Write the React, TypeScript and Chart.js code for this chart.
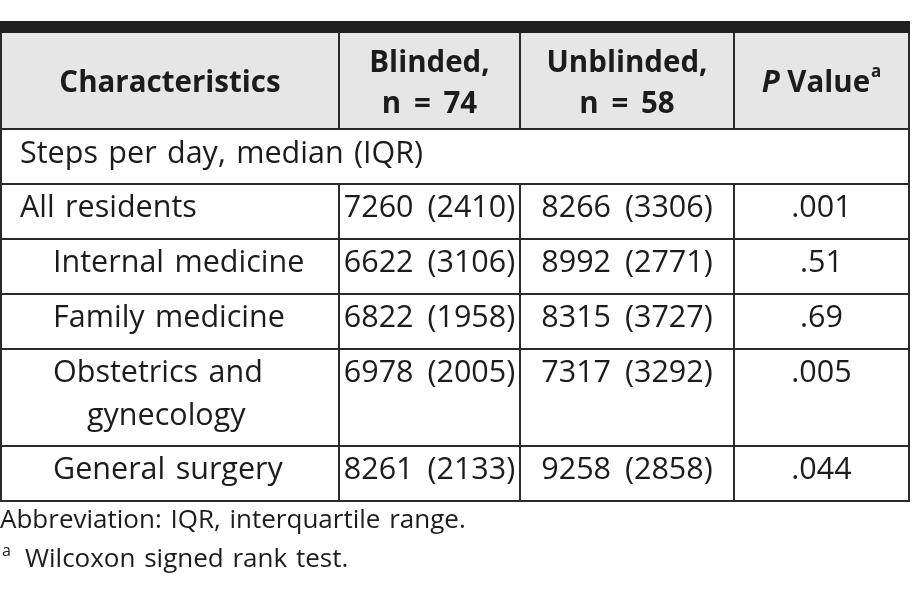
import React, { useEffect, useRef } from "react";
import { Chart, registerables } from "chart.js";

Chart.register(...registerables);

// ---- table content ----
const headerCharacteristics = "Characteristics";
const headerBlinded = ["Blinded,", "n = 74"];
const headerUnblinded = ["Unblinded,", "n = 58"];
const headerPValue = "Value";
const sectionLabel = "Steps per day, median (IQR)";
const categories = [
  "All residents",
  "Internal medicine",
  "Family medicine",
  "Obstetrics and gynecology",
  "General surgery",
];
const categoryLevels = [0, 1, 1, 1, 1];
const blinded = ["7260 (2410)", "6622 (3106)", "6822 (1958)", "6978 (2005)", "8261 (2133)"];
const unblinded = ["8266 (3306)", "8992 (2771)", "8315 (3727)", "7317 (3292)", "9258 (2858)"];
const pValues = [".001", ".51", ".69", ".005", ".044"];
const footnoteAbbrev = "Abbreviation: IQR, interquartile range.";
const footnoteTest = "Wilcoxon signed rank test.";

// ---- layout (in scale units) ----
const COL_EDGES = [1, 339, 520, 734, 909];
const TOP_BAR = [21, 33];
const HEADER_BOTTOM = 129;
const ROW_BASE_H = 55;
const ROW_EXTRA_LINE_H = 42;
const FONT_FAMILY = '"Open Sans", "Noto Sans", sans-serif';
const INK = "#1c1c1c";
const RULE = "#2b2b2b";

const fBody = `30.5px ${FONT_FAMILY}`;
const fHead = `bold 29.5px ${FONT_FAMILY}`;
const fHeadItalic = `italic bold 29.5px ${FONT_FAMILY}`;
const fSup = `bold 17px ${FONT_FAMILY}`;
const fFoot = `26px ${FONT_FAMILY}`;
const fFootSup = `16px ${FONT_FAMILY}`;

function setWS(ctx: CanvasRenderingContext2D, px: number) {
  (ctx as any).wordSpacing = `${px}px`;
}

function wrapText(ctx: CanvasRenderingContext2D, text: string, maxW: number): string[] {
  const words = text.split(" ");
  const lines: string[] = [];
  let cur = "";
  for (const w of words) {
    const test = cur ? cur + " " + w : w;
    if (ctx.measureText(test).width > maxW && cur) {
      lines.push(cur);
      cur = w;
    } else cur = test;
  }
  if (cur) lines.push(cur);
  return lines;
}

const tablePlugin = {
  id: "tablePlugin",
  afterDraw(chart: any) {
    const ctx: CanvasRenderingContext2D = chart.ctx;
    const xs = chart.scales.x;
    const ys = chart.scales.y;
    const X = (v: number) => xs.getPixelForValue(v);
    const Y = (v: number) => ys.getPixelForValue(v);
    const cx = COL_EDGES.map(X);
    ctx.save();
    ctx.textBaseline = "alphabetic";

    // compute row layout
    ctx.font = fBody;
    setWS(ctx, 2.5);
    const labelLines = categories.map((c, i) =>
      wrapText(ctx, c, cx[1] - cx[0] - (categoryLevels[i] ? 60 : 25))
    );
    const rowEdges: number[] = [HEADER_BOTTOM, HEADER_BOTTOM + ROW_BASE_H];
    labelLines.forEach((ls) => {
      rowEdges.push(rowEdges[rowEdges.length - 1] + ROW_BASE_H + (ls.length - 1) * ROW_EXTRA_LINE_H);
    });
    const ry = rowEdges.map(Y);

    // header background
    ctx.fillStyle = "#e6e6e6";
    ctx.fillRect(cx[0], Y(TOP_BAR[1]), cx[4] - cx[0], Y(HEADER_BOTTOM) - Y(TOP_BAR[1]));
    // top bar
    ctx.fillStyle = "#1f1f1f";
    ctx.fillRect(cx[0] - 1, Y(TOP_BAR[0]), cx[4] - cx[0] + 2, Y(TOP_BAR[1]) - Y(TOP_BAR[0]));

    // rules
    ctx.strokeStyle = RULE;
    ctx.lineWidth = 2;
    const hline = (y: number) => {
      ctx.beginPath();
      ctx.moveTo(cx[0] - 1, y);
      ctx.lineTo(cx[4] + 1, y);
      ctx.stroke();
    };
    const vline = (x: number, y0: number, y1: number) => {
      ctx.beginPath();
      ctx.moveTo(x, y0);
      ctx.lineTo(x, y1);
      ctx.stroke();
    };
    ry.forEach(hline);
    const yTop = Y(TOP_BAR[1]);
    const yBot = ry[ry.length - 1];
    vline(cx[0], yTop, yBot + 1);
    vline(cx[4], yTop, yBot + 1);
    for (let k = 1; k < 4; k++) {
      vline(cx[k], yTop, ry[0]);
      vline(cx[k], ry[1], yBot);
    }

    ctx.fillStyle = INK;
    // header text
    const hCenter = (Y(TOP_BAR[1]) + Y(HEADER_BOTTOM)) / 2;
    const colMid = (k: number) => (cx[k] + cx[k + 1]) / 2;
    ctx.textAlign = "center";
    ctx.font = fHead;
    setWS(ctx, 0);
    ctx.fillText(headerCharacteristics, colMid(0), hCenter + 11);
    [headerBlinded, headerUnblinded].forEach((ls, j) => {
      setWS(ctx, 0);
      ctx.fillText(ls[0], colMid(j + 1), hCenter + 11 - 20.5);
      setWS(ctx, 5);
      ctx.fillText(ls[1], colMid(j + 1), hCenter + 11 + 20.5);
    });
    setWS(ctx, 0);
    // P Value^a
    ctx.textAlign = "left";
    ctx.font = fHeadItalic;
    const wP = ctx.measureText("P ").width;
    ctx.font = fHead;
    const wV = ctx.measureText(headerPValue).width;
    ctx.font = fSup;
    const wA = ctx.measureText("a").width;
    let px = colMid(3) - (wP + wV + wA + 1) / 2;
    ctx.font = fHeadItalic;
    ctx.fillText("P ", px, hCenter + 11);
    px += wP;
    ctx.font = fHead;
    ctx.fillText(headerPValue, px, hCenter + 11);
    px += wV + 1;
    ctx.font = fSup;
    ctx.fillText("a", px, hCenter + 11 - 15);

    // section row
    ctx.font = fBody;
    setWS(ctx, 2.5);
    ctx.textAlign = "left";
    ctx.fillText(sectionLabel, cx[0] + 19, ry[0] + 34);

    // data rows
    categories.forEach((_, i) => {
      const top = ry[i + 1];
      const base = top + 33;
      const indent = categoryLevels[i] ? 52 : 19;
      ctx.textAlign = "left";
      setWS(ctx, 2.5);
      labelLines[i].forEach((ln, li) => {
        ctx.fillText(ln, cx[0] + indent + (li > 0 ? 34 : 0), base + li * 43);
      });
      ctx.textAlign = "center";
      setWS(ctx, 6);
      ctx.fillText(blinded[i], colMid(1), base);
      ctx.fillText(unblinded[i], colMid(2), base);
      ctx.fillText(pValues[i], colMid(3), base);
    });

    // footnotes
    ctx.textAlign = "left";
    ctx.font = fFoot;
    setWS(ctx, 2);
    ctx.fillText(footnoteAbbrev, cx[0] - 1, yBot + 27);
    ctx.font = fFootSup;
    ctx.fillText("a", cx[0] + 1, yBot + 55);
    ctx.font = fFoot;
    ctx.fillText(footnoteTest, cx[0] + 24, yBot + 66);

    ctx.restore();
  },
};

export default function App() {
  const ref = useRef<HTMLCanvasElement | null>(null);
  useEffect(() => {
    if (!ref.current) return;
    const chart = new Chart(ref.current, {
      type: "scatter",
      data: { datasets: [{ data: [] }] },
      options: {
        responsive: false,
        animation: false,
        events: [],
        layout: { padding: 0 },
        plugins: { legend: { display: false }, tooltip: { enabled: false } },
        scales: {
          x: { type: "linear", min: 0, max: 913, display: false },
          y: { type: "linear", min: 0, max: 592, reverse: true, display: false },
        },
      },
      plugins: [tablePlugin],
    } as any);
    let alive = true;
    if ((document as any).fonts) {
      Promise.all([
        (document as any).fonts.load(fBody),
        (document as any).fonts.load(fHead),
        (document as any).fonts.load(fHeadItalic),
      ]).then(() => {
        if (alive) chart.update();
      });
    }
    return () => {
      alive = false;
      chart.destroy();
    };
  }, []);
  return (
    <div style={{ position: "absolute", left: 0, top: 0, width: 913, height: 592, background: "#fff" }}>
      <canvas ref={ref} width={913} height={592} style={{ display: "block" }} />
    </div>
  );
}
